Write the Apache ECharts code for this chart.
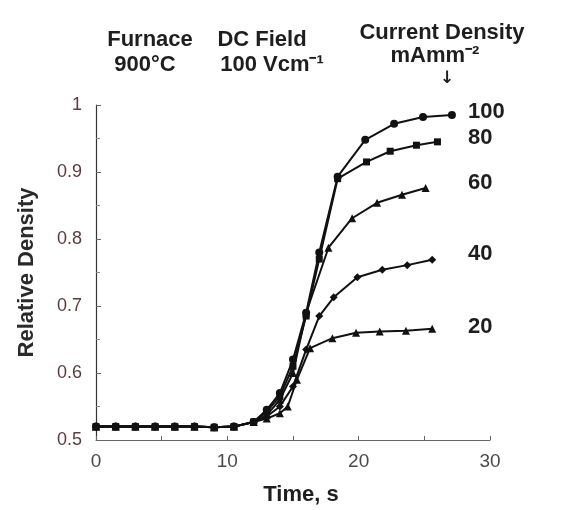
<!DOCTYPE html>
<html>
<head>
<meta charset="utf-8">
<script src="https://cdn.jsdelivr.net/npm/echarts@6/dist/echarts.min.js"></script>
<style>
  html, body { margin: 0; padding: 0; background: #fff; }
  #chart { width: 569px; height: 510px; }
</style>
</head>
<body>
<div id="chart"></div>
<script>
// Relative density vs. time during flash sintering at 900°C, 100 V/cm,
// for five current-density limits (mA/mm²).
const baseTime = [0, 1.5, 3, 4.5, 6, 7.5, 9, 10.5, 12];
const baseDensity = [0.52, 0.52, 0.52, 0.52, 0.52, 0.52, 0.519, 0.52, 0.527];

const time100 = [13, 14, 15, 16, 17, 18.4, 20.5, 22.7, 24.9, 27.1];
const dens100 = [0.545, 0.57, 0.62, 0.69, 0.78, 0.893, 0.948, 0.972, 0.982, 0.985];

const time80 = [13, 14, 15, 16, 17, 18.4, 20.6, 22.4, 24.4, 26.0];
const dens80 = [0.542, 0.565, 0.61, 0.685, 0.77, 0.89, 0.915, 0.931, 0.940, 0.945];

const time60 = [13, 14, 15, 16, 17.7, 19.5, 21.4, 23.3, 25.1];
const dens60 = [0.537, 0.56, 0.60, 0.69, 0.787, 0.831, 0.854, 0.866, 0.876];

const time40 = [13, 14, 15, 16, 17, 18.1, 19.9, 21.8, 23.7, 25.6];
const dens40 = [0.535, 0.55, 0.58, 0.635, 0.685, 0.713, 0.743, 0.754, 0.761, 0.769];

const time20 = [13, 14, 14.6, 15.3, 16.3, 18.0, 19.8, 21.6, 23.6, 25.6];
const dens20 = [0.532, 0.54, 0.55, 0.59, 0.637, 0.652, 0.660, 0.662, 0.663, 0.666];

const currentLabels = ['100', '80', '60', '40', '20'];
const markerShapes = ['circle', 'rect', 'triangle', 'diamond', 'triangle'];
const seriesTimes = [time100, time80, time60, time40, time20];
const seriesDens = [dens100, dens80, dens60, dens40, dens20];

function pairs(t, v) {
  const all = baseTime.concat(t);
  const vals = baseDensity.concat(v);
  return all.map((x, i) => [x, vals[i]]);
}

const chart = echarts.init(document.getElementById('chart'), null, { renderer: 'canvas' });

const series = currentLabels.map((name, i) => ({
  name: name,
  type: 'line',
  data: pairs(seriesTimes[i], seriesDens[i]),
  symbol: markerShapes[i],
  symbolSize: markerShapes[i] === 'rect' ? 7 : 8,
  showAllSymbol: true,
  lineStyle: { color: '#111', width: 2 },
  itemStyle: { color: '#111' },
  emphasis: { disabled: true },
  z: 5 - i
}));

const FAMILY = '"Liberation Sans", Arial, Helvetica, sans-serif';
const boldFont = 'bold 22px ' + FAMILY;
const textColor = '#1e1e1e';

function caption(text, cx, cy, font) {
  return {
    type: 'text', x: cx, y: cy,
    style: { text: text, font: font || boldFont, fill: textColor, align: 'center', verticalAlign: 'middle' }
  };
}

// current-density labels beside each curve's end
const sideLabelY = [112, 138, 183, 254, 327];
const sideLabels = currentLabels.map((s, i) => ({
  type: 'text', x: 468, y: sideLabelY[i],
  style: { text: s, font: boldFont, fill: textColor, align: 'left', verticalAlign: 'middle' }
}));

chart.setOption({
  animation: false,
  grid: { left: 96, right: 79, top: 105, bottom: 70, containLabel: false, outerBoundsMode: 'none' },
  xAxis: {
    type: 'value', min: 0, max: 30, interval: 5,
    name: 'Time, s', nameLocation: 'middle', nameGap: 44,
    nameTextStyle: { fontSize: 22, fontWeight: 'bold', color: textColor, fontFamily: FAMILY, padding: [0, 0, 0, 16] },
    axisLine: { lineStyle: { color: '#666', width: 1 } },
    axisTick: { inside: true, length: 4, lineStyle: { color: '#666' } },
    axisLabel: {
      color: '#4a4a4a', fontSize: 19, fontFamily: FAMILY, margin: 12,
      formatter: v => (v % 10 === 0 ? String(v) : '')
    },
    splitLine: { show: false }
  },
  yAxis: {
    type: 'value', min: 0.5, max: 1, interval: 0.1,
    name: 'Relative Density', nameLocation: 'middle', nameGap: 58, nameRotate: 90,
    nameTextStyle: { fontSize: 22, fontWeight: 'bold', color: '#2a2a2a', fontFamily: FAMILY },
    axisLine: { show: true, lineStyle: { color: '#333', width: 1.2 } },
    axisTick: { show: true, inside: true, length: 5, lineStyle: { color: '#666' } },
    minorTick: { show: true, splitNumber: 2, length: 4, lineStyle: { color: '#888' } },
    axisLabel: {
      color: '#5a3c40', fontSize: 18, fontFamily: FAMILY, margin: 14,
      formatter: v => (Math.abs(v - 1) < 1e-9 ? '1' : v.toFixed(1))
    },
    splitLine: { show: false }
  },
  series: series,
  graphic: [
    caption('Furnace', 150, 40),
    caption('900°C', 145, 65),
    caption('DC Field', 262, 40),
    caption('100 Vcm⁻¹', 272, 65),
    caption('Current Density', 442, 33),
    caption('mAmm⁻²', 435, 56),
    caption('↓', 447, 79, 'bold 17px "DejaVu Sans", sans-serif')
  ].concat(sideLabels)
});
</script>
</body>
</html>
